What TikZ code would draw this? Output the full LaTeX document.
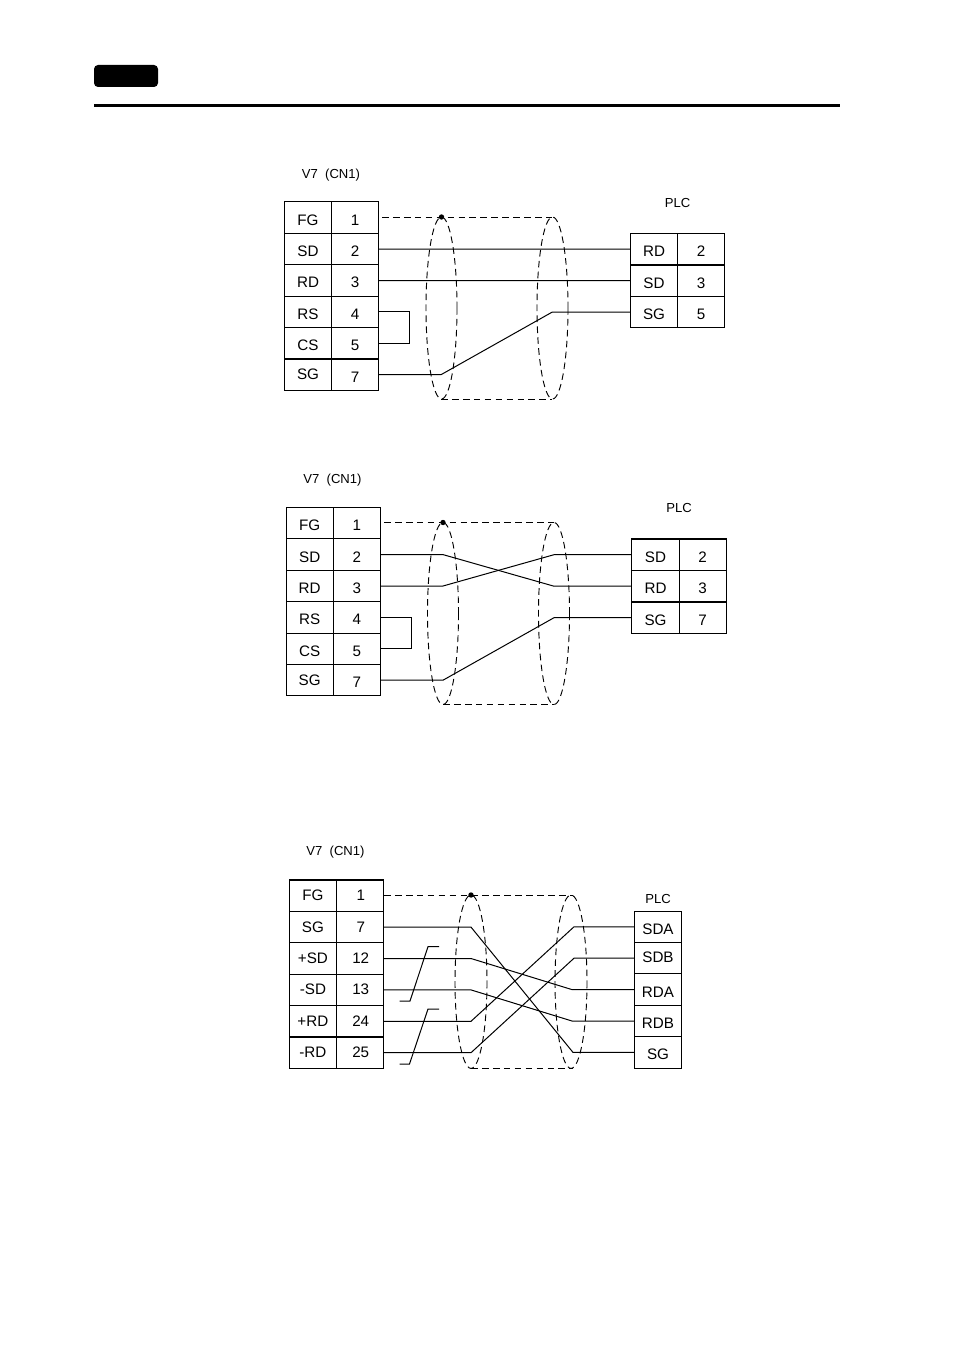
\documentclass[tikz,border=0pt]{standalone}
\usepackage{fontspec}
\setmainfont{Liberation Sans}
\tikzset{
  cell/.style={draw=black,line width=0.8pt,minimum width=35.4pt,minimum height=23.6pt,inner sep=0pt,outer sep=0pt,text height=11.1pt,text depth=0pt,font=\fontsize{11.4}{13}\selectfont},
  smalltext/.style={inner sep=0pt,font=\fontsize{9.8}{11}\selectfont},
  wire/.style={line width=0.75pt,black},
  shield/.style={line width=0.7pt,black,dash pattern=on 5pt off 3.2pt},
  bar/.style={line width=2.6pt,black}
}
% name, x name, x pin, y, name text, pin text
\newcommand{\pinrow}[6]{%
  \node[cell] (#1n) at (#2,#4) {#5};
  \node[cell] (#1p) at (#3,#4) {#6};
}
% text raised to the cell's middle
\newcommand{\up}[1]{\raisebox{1.8pt}{#1}}
\begin{document}
\begin{tikzpicture}[x=0.75pt,y=-0.75pt]
\useasboundingbox (0,0) rectangle (954,1348);
\fill[black,rounded corners=3pt] (94,65) rectangle (158,87);
\coordinate (ruleL) at (94,105.5);
\coordinate (ruleR) at (840,105.5);
\draw[bar] (ruleL) -- (ruleR);

% ---------- diagram 1 ----------
\node[smalltext] (t1) at (331,175) {V7\ \ (CN1)};
\node[smalltext] (p1) at (677.5,203) {PLC};
\pinrow{a1}{308}{355.2}{217.7}{FG}{1}
\pinrow{a2}{308}{355.2}{249.1}{SD}{2}
\pinrow{a3}{308}{355.2}{280.5}{RD}{3}
\pinrow{a4}{308}{355.2}{311.9}{RS}{4}
\pinrow{a5}{308}{355.2}{343.3}{CS}{5}
\pinrow{a6}{308}{355.2}{374.7}{\raisebox{1.9pt}{SG}}{7}
\pinrow{b1}{654}{701}{249.2}{RD}{2}
\pinrow{b2}{654}{701}{280.7}{SD}{3}
\pinrow{b3}{654}{701}{312.2}{SG}{5}
\coordinate (s1a) at (382,217);
\coordinate (s1b) at (552,217);
\coordinate (s1c) at (441,399);
\coordinate (s1d) at (552,399);
\coordinate (dot1) at (441.5,217);
\draw[shield] (s1a) -- (s1b);
\draw[shield] (s1c) -- (s1d);
\draw[shield] (441.5,308) ellipse [x radius=15.5,y radius=91];
\draw[shield] (552.5,308) ellipse [x radius=15.5,y radius=91];
\fill[black] (dot1) circle (2.7);
\draw[wire] (a2p.east) -- (b1n.west);
\draw[wire] (a3p.east) -- (b2n.west);
\draw[wire] (a4p.east) -- ++(31,0) |- (a5p.east);
\coordinate (k1) at (441,374.7);
\coordinate (k2) at (552,312.2);
\draw[wire] (a6p.east) -- (k1) -- (k2) -- (b3n.west);

% ---------- diagram 2 ----------
\node[smalltext] (t2) at (332.5,480) {V7\ \ (CN1)};
\node[smalltext] (p2) at (679,508) {PLC};
\pinrow{c1}{309.7}{356.8}{523.2}{FG}{1}
\pinrow{c2}{309.7}{356.8}{554.6}{SD}{2}
\pinrow{c3}{309.7}{356.8}{586}{RD}{3}
\pinrow{c4}{309.7}{356.8}{617.4}{RS}{4}
\pinrow{c5}{309.7}{356.8}{648.8}{CS}{5}
\pinrow{c6}{309.7}{356.8}{680.2}{\raisebox{1.5pt}{SG}}{7}
\pinrow{d1}{655.5}{702.7}{554.7}{SD}{2}
\pinrow{d2}{655.5}{702.7}{586.2}{RD}{3}
\pinrow{d3}{655.5}{702.7}{617.7}{SG}{7}
\coordinate (s2a) at (384,522.5);
\coordinate (s2b) at (554,522.5);
\coordinate (s2c) at (443,704.5);
\coordinate (s2d) at (554,704.5);
\coordinate (dot2) at (443,522.5);
\draw[shield] (s2a) -- (s2b);
\draw[shield] (s2c) -- (s2d);
\draw[shield] (443,613.5) ellipse [x radius=15.5,y radius=91];
\draw[shield] (554,613.5) ellipse [x radius=15.5,y radius=91];
\fill[black] (dot2) circle (2.7);
\coordinate (m1) at (443,554.6);
\coordinate (m2) at (554,586.2);
\coordinate (m3) at (443,586);
\coordinate (m4) at (554,554.7);
\coordinate (m5) at (443,680.2);
\coordinate (m6) at (554,617.7);
\draw[wire] (c2p.east) -- (m1) -- (m2) -- (d2n.west);
\draw[wire] (c3p.east) -- (m3) -- (m4) -- (d1n.west);
\draw[wire] (c4p.east) -- ++(31,0) |- (c5p.east);
\draw[wire] (c6p.east) -- (m5) -- (m6) -- (d3n.west);

% ---------- diagram 3 ----------
\node[smalltext] (t3) at (335.5,852) {V7\ \ (CN1)};
\node[smalltext] (p3) at (658,899) {PLC};
\pinrow{e1}{312.9}{359.8}{895.7}{\up{FG}}{\up{\hspace*{1.4pt}1}}
\pinrow{e2}{312.9}{359.8}{927.1}{\up{SG}}{\up{\hspace*{1.4pt}7}}
\pinrow{e3}{312.9}{359.8}{958.5}{\up{+SD}}{\up{\hspace*{1.4pt}12}}
\pinrow{e4}{312.9}{359.8}{989.9}{\up{-SD}}{\up{\hspace*{1.4pt}13}}
\pinrow{e5}{312.9}{359.8}{1021.3}{\up{+RD}}{\up{\hspace*{1.4pt}24}}
\pinrow{e6}{312.9}{359.8}{1052.7}{\up{-RD}}{\up{\hspace*{1.4pt}25}}
\node[cell] (f1) at (658,926.8) {SDA};
\node[cell] (f2) at (658,958.2) {\raisebox{2.2pt}{SDB}};
\node[cell] (f3) at (658,989.6) {RDA};
\node[cell] (f4) at (658,1021) {RDB};
\node[cell] (f5) at (658,1052.4) {SG};
\coordinate (s3a) at (384,895);
\coordinate (s3b) at (573,895);
\coordinate (s3c) at (471,1068.5);
\coordinate (s3d) at (573,1068.5);
\coordinate (dot3) at (471,895);
\draw[shield] (s3a) -- (s3b);
\draw[shield] (s3c) -- (s3d);
\draw[shield] (471,981.7) ellipse [x radius=16,y radius=86.7];
\draw[shield] (571,981.7) ellipse [x radius=16,y radius=86.7];
\fill[black] (dot3) circle (2.7);
\coordinate (n1) at (471,927.1);
\coordinate (n2) at (573,1052.4);
\coordinate (n3) at (471,958.5);
\coordinate (n4) at (572,989.6);
\coordinate (n5) at (471,989.9);
\coordinate (n6) at (572,1021);
\coordinate (n7) at (471,1021.3);
\coordinate (n8) at (574,926.8);
\coordinate (n9) at (471,1052.7);
\coordinate (n10) at (574,958.2);
\draw[wire] (e2p.east) -- (n1) -- (n2) -- (f5.west);
\draw[wire] (e3p.east) -- (n3) -- (n4) -- (f3.west);
\draw[wire] (e4p.east) -- (n5) -- (n6) -- (f4.west);
\draw[wire] (e5p.east) -- (n7) -- (n8) -- (f1.west);
\draw[wire] (e6p.east) -- (n9) -- (n10) -- (f2.west);
\coordinate (q1) at (399.5,1001);
\coordinate (q2) at (410,1001);
\coordinate (q3) at (428,946.7);
\coordinate (q4) at (439,946.7);
\coordinate (q5) at (399.5,1064);
\coordinate (q6) at (409.5,1064);
\coordinate (q7) at (428,1009);
\coordinate (q8) at (439,1009);
\draw[wire] (q1) -- (q2) -- (q3) -- (q4);
\draw[wire] (q5) -- (q6) -- (q7) -- (q8);
\end{tikzpicture}
\end{document}
